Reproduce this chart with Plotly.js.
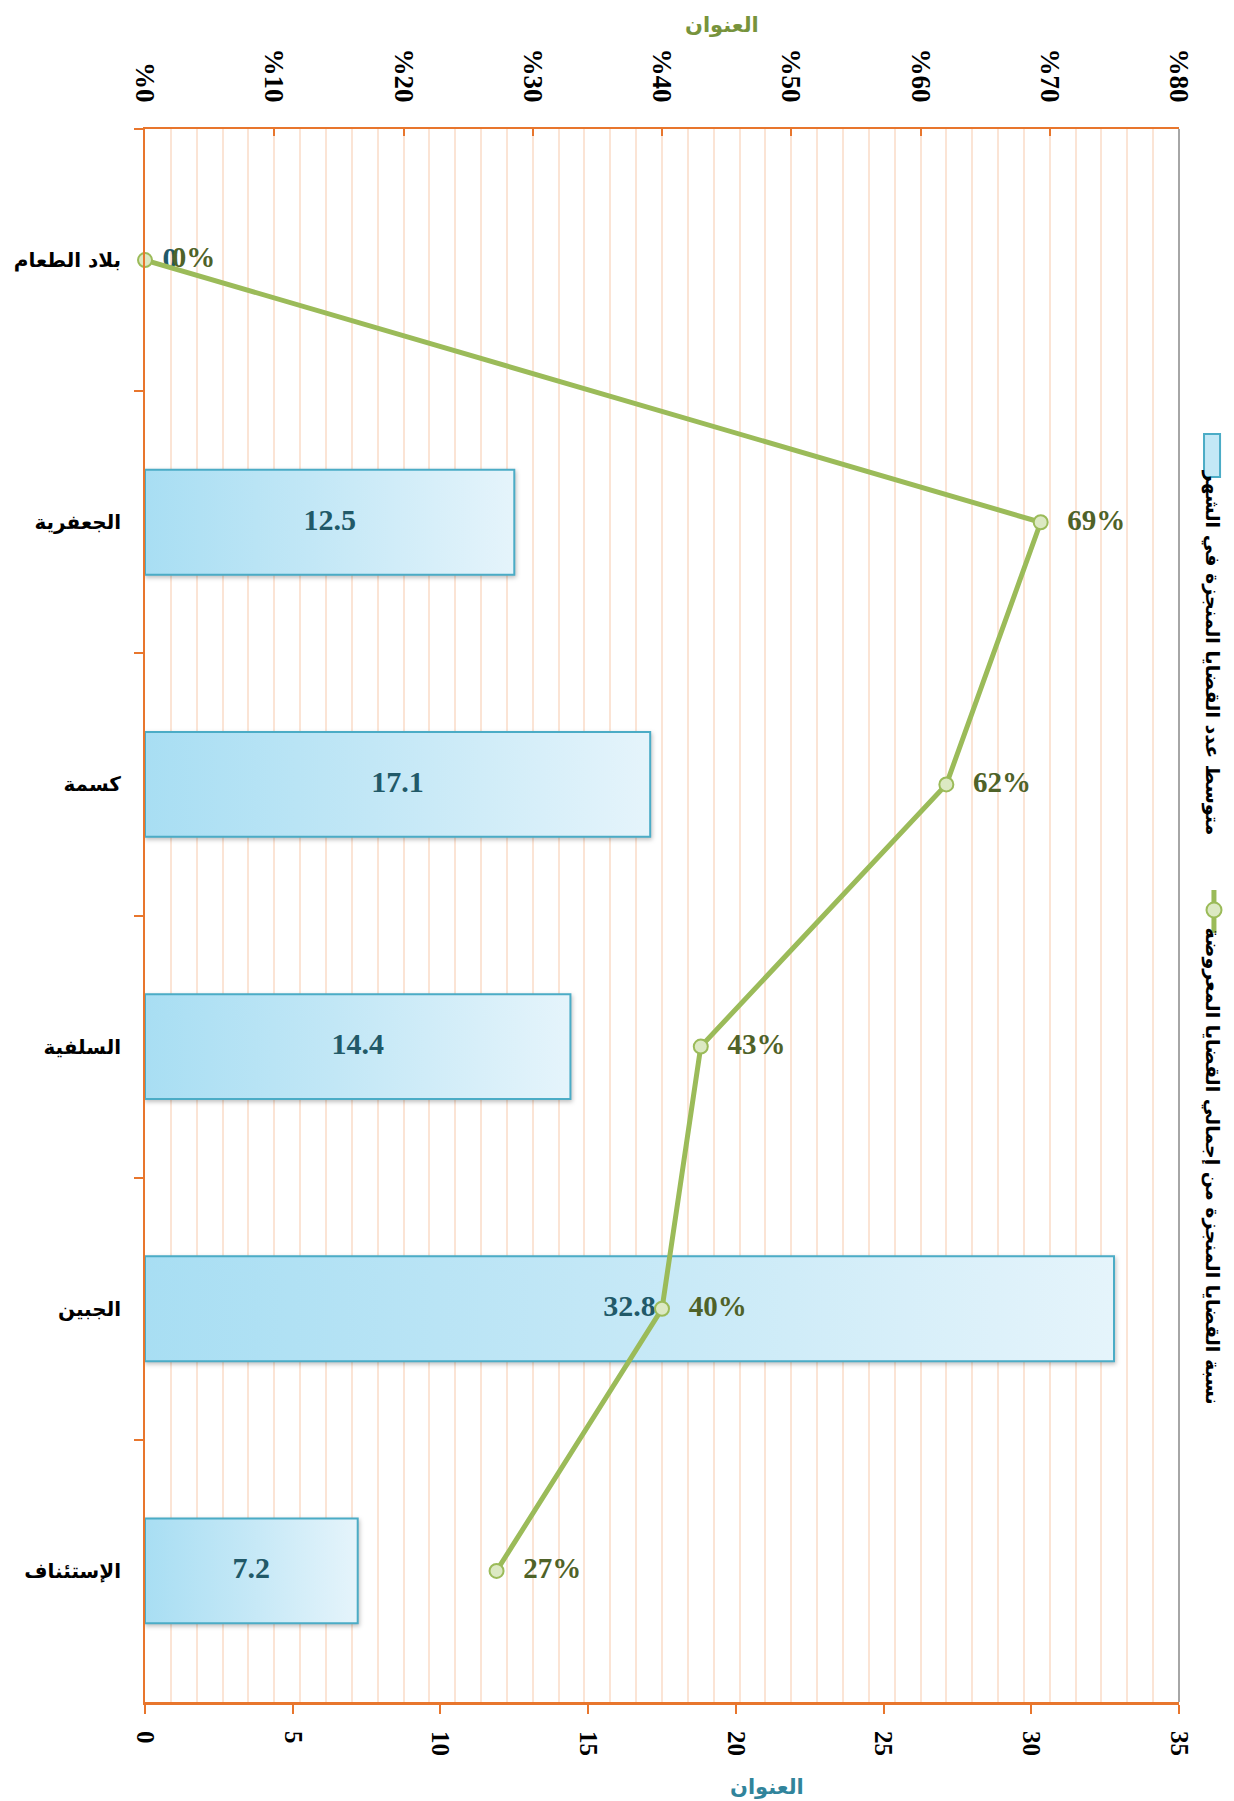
<!DOCTYPE html>
<html>
<head>
<meta charset="utf-8">
<script src="https://cdn.plot.ly/plotly-3.0.1.min.js"></script>
<style>
  html, body { margin: 0; padding: 0; background: #ffffff; }
  #chart { width: 1234px; height: 1801px; }
</style>
</head>
<body>
<div id="chart"></div>
<script>
// ---- data ----
const categories = ['بلاد الطعام', 'الجعفرية', 'كسمة', 'السلفية', 'الجبين', 'الإستئناف'];
const avgCasesPerMonth = [0, 12.5, 17.1, 14.4, 32.8, 7.2];
const completionRate = [0.00, 0.693, 0.62, 0.43, 0.40, 0.272];
const seriesNames = ['متوسط عدد القضايا المنجزة في الشهر', 'نسبة القضايا المنجزة من إجمالي القضايا المعروضة'];
const bottomTickVals = [0, 5, 10, 15, 20, 25, 30, 35];
const topTickVals = [0, 0.1, 0.2, 0.3, 0.4, 0.5, 0.6, 0.7, 0.8];
const topTickText = ['%0', '%10', '%20', '%30', '%40', '%50', '%60', '%70', '%80'];
const axisTitle = 'العنوان';

// ---- styles ----
const ORANGE = '#E8762D';
const GRID = '#FBE4D5';
const GREEN = '#9BBB59';
const serif = 'Liberation Serif, Times New Roman, serif';
const arabic = 'DejaVu Sans, Liberation Sans, sans-serif';

const barTrace = {
  type: 'bar', orientation: 'h',
  x: avgCasesPerMonth, y: categories,
  xaxis: 'x', yaxis: 'y',
  name: seriesNames[0],
  marker: { color: '#C3E8F6', line: { color: '#4BACC6', width: avgCasesPerMonth.map(v => v === 0 ? 0 : 2) } },
  hoverinfo: 'x+y', showlegend: false
};

const barLabels = {
  type: 'scatter', mode: 'text',
  x: avgCasesPerMonth.map(v => v / 2), y: categories,
  xaxis: 'x', yaxis: 'y',
  text: avgCasesPerMonth.map(v => v === 0 ? '\u2002\u200A' + v : String(v)),
  textposition: avgCasesPerMonth.map(v => v === 0 ? 'middle right' : 'middle center'),
  textfont: { family: serif, size: 30, color: '#215968', weight: 'bold' },
  hoverinfo: 'skip', showlegend: false
};

const lineTrace = {
  type: 'scatter', mode: 'lines+markers+text',
  x: completionRate, y: categories,
  xaxis: 'x2', yaxis: 'y',
  name: seriesNames[1],
  line: { color: GREEN, width: 5 },
  marker: { symbol: 'circle', size: 14, color: '#DCE9C3', line: { color: GREEN, width: 2 } },
  texttemplate: '\u2002\u200A%{x:.0%}',
  textposition: 'middle right',
  textfont: { family: serif, size: 29, color: '#4F6228', weight: 'bold' },
  cliponaxis: false,
  showlegend: false
};

// legend / title positions in paper coordinates
const annotations = [
  { text: axisTitle, xref: 'paper', yref: 'paper', x: 0.558, y: 1.066, xanchor: 'center', yanchor: 'middle', showarrow: false,
    font: { family: arabic, size: 21, color: '#77933C', weight: 'bold' } },
  { text: axisTitle, xref: 'paper', yref: 'paper', x: 0.6015, y: -0.054, xanchor: 'center', yanchor: 'middle', showarrow: false,
    font: { family: arabic, size: 21, color: '#31849B', weight: 'bold' } },
  { text: seriesNames[0], xref: 'paper', yref: 'paper', x: 1.032, y: 0.667, xanchor: 'center', yanchor: 'middle', showarrow: false,
    textangle: 90, font: { family: arabic, size: 19, color: '#000000', weight: 'bold' } },
  { text: seriesNames[1], xref: 'paper', yref: 'paper', x: 1.032, y: 0.341, xanchor: 'center', yanchor: 'middle', showarrow: false,
    textangle: 90, font: { family: arabic, size: 19, color: '#000000', weight: 'bold' } }
];

const shapes = [
  // right border line
  { type: 'line', xref: 'paper', yref: 'paper', x0: 1, x1: 1, y0: 0, y1: 1,
    line: { color: '#A6A6A6', width: 2 } },
  // legend key: bar
  { type: 'rect', xref: 'paper', yref: 'paper', x0: 1.0242, x1: 1.0397, y0: 0.7788, y1: 0.8061,
    fillcolor: '#C3E8F6', line: { color: '#4BACC6', width: 2 } },
  // legend key: line + marker
  { type: 'line', xref: 'paper', yref: 'paper', x0: 1.0338, x1: 1.0338, y0: 0.4889, y1: 0.5162,
    line: { color: GREEN, width: 5 } },
  { type: 'circle', xref: 'paper', yref: 'paper', x0: 1.0266, x1: 1.0411, y0: 0.4988, y1: 0.5083,
    fillcolor: '#DCE9C3', line: { color: GREEN, width: 2 } }
];

const layout = {
  width: 1234, height: 1801,
  margin: { l: 145, r: 55, t: 129, b: 99 },
  paper_bgcolor: '#ffffff', plot_bgcolor: '#ffffff',
  bargap: 0.6,
  showlegend: false,
  xaxis: {
    range: [0, 35], tickvals: bottomTickVals, ticks: 'outside', ticklen: 9, tickwidth: 2, tickcolor: ORANGE,
    showline: true, linecolor: ORANGE, linewidth: 3, showgrid: false, zeroline: false,
    tickangle: 90, ticklabelstandoff: 12,
    tickfont: { family: serif, size: 25, color: '#000000', weight: 'bold' }
  },
  xaxis2: {
    range: [0, 0.8], overlaying: 'x', side: 'top', anchor: 'y',
    tickvals: topTickVals, ticktext: topTickText, ticks: 'inside', ticklen: 7, tickwidth: 2, tickcolor: ORANGE,
    showline: true, linecolor: ORANGE, linewidth: 2, zeroline: false,
    showgrid: true, gridcolor: GRID, gridwidth: 2,
    minor: { dtick: 0.02, showgrid: true, gridcolor: GRID, gridwidth: 2, ticks: '' },
    tickangle: 90, ticklabelstandoff: 15,
    tickfont: { family: serif, size: 27, color: '#000000', weight: 'bold' }
  },
  yaxis: {
    type: 'category', autorange: 'reversed', tickson: 'boundaries',
    ticks: 'outside', ticklen: 9, tickwidth: 2, tickcolor: ORANGE,
    showline: true, linecolor: ORANGE, linewidth: 2, showgrid: false, zeroline: false,
    ticklabelstandoff: 18,
    tickfont: { family: arabic, size: 20, color: '#000000', weight: 'bold' }
  },
  annotations: annotations,
  shapes: shapes
};

Plotly.newPlot('chart', [barTrace, lineTrace, barLabels], layout, { displayModeBar: false, staticPlot: true })
.then(function (gd) {
  // horizontal gradient fill for the bars (as in the original)
  const svg = gd.querySelector('.main-svg');
  const ns = 'http://www.w3.org/2000/svg';
  let defs = svg.querySelector('defs');
  if (!defs) { defs = document.createElementNS(ns, 'defs'); svg.insertBefore(defs, svg.firstChild); }
  const grad = document.createElementNS(ns, 'linearGradient');
  grad.setAttribute('id', 'barGrad');
  grad.setAttribute('x1', '0'); grad.setAttribute('y1', '0');
  grad.setAttribute('x2', '1'); grad.setAttribute('y2', '0');
  [['0', '#A8DEF3'], ['0.45', '#C2E7F6'], ['1', '#E5F4FB']].forEach(function (s) {
    const st = document.createElementNS(ns, 'stop');
    st.setAttribute('offset', s[0]); st.setAttribute('stop-color', s[1]);
    grad.appendChild(st);
  });
  defs.appendChild(grad);
  gd.querySelectorAll('.barlayer .point path').forEach(function (p) {
    p.style.fill = 'url(#barGrad)';
    p.style.filter = 'drop-shadow(1px 2px 2px rgba(0,0,0,0.25))';
  });
});
</script>
</body>
</html>
